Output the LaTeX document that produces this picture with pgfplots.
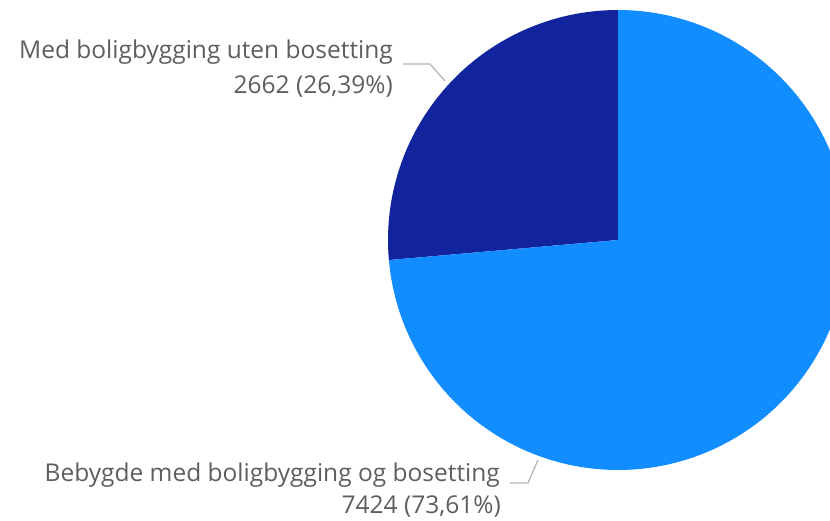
\documentclass[border=0pt]{standalone}
\usepackage{pgfplots}
\pgfplotsset{compat=1.18}
\usepackage{fontspec}
\setmainfont{Open Sans}
\definecolor{lightb}{HTML}{118DFF}
\definecolor{darkb}{HTML}{12239E}
\definecolor{txt}{HTML}{605E5C}
\definecolor{lead}{HTML}{B3B3B3}
\begin{document}
\begin{tikzpicture}
\pgfmathsetmacro{\va}{2662}
\pgfmathsetmacro{\vb}{7424}
\pgfmathsetmacro{\frac}{\va/(\va+\vb)}
\pgfmathsetmacro{\angA}{90+360*\frac}
\begin{axis}[
  scale only axis, width=830pt, height=520pt,
  xmin=0, xmax=830, ymin=0, ymax=520,
  hide axis, clip=true,
]
% dark slice
\addplot[draw=none, fill=darkb, domain=90:\angA, samples=90]
  ({618+230*cos(x)}, {280+230*sin(x)}) -- (axis cs:618,280) -- cycle;
% light slice
\addplot[draw=none, fill=lightb, domain=\angA:450, samples=200]
  ({618+230*cos(x)}, {280+230*sin(x)}) -- (axis cs:618,280) -- cycle;
% leader lines
\draw[lead, line width=1.2pt] (axis cs:403,456) -- (axis cs:430,456) -- (axis cs:445,439);
\draw[lead, line width=1.2pt] (axis cs:510,37) -- (axis cs:528,37) -- (axis cs:538,60);
% labels
\node[anchor=base east, text=txt, font=\fontsize{24.5}{29}\selectfont, inner sep=0pt] at (axis cs:393,461) {Med boligbygging uten bosetting};
\node[anchor=base east, text=txt, font=\fontsize{24.5}{29}\selectfont, inner sep=0pt] at (axis cs:393,426) {2662 (26,39\%)};
\node[anchor=base east, text=txt, font=\fontsize{24.5}{29}\selectfont, inner sep=0pt] at (axis cs:500,39) {Bebygde med boligbygging og bosetting};
\node[anchor=base east, text=txt, font=\fontsize{24.5}{29}\selectfont, inner sep=0pt] at (axis cs:501,7) {7424 (73,61\%)};
\end{axis}
\pgfresetboundingbox
\path[use as bounding box] (current axis.south west) rectangle (current axis.north east);
\end{tikzpicture}
\end{document}
